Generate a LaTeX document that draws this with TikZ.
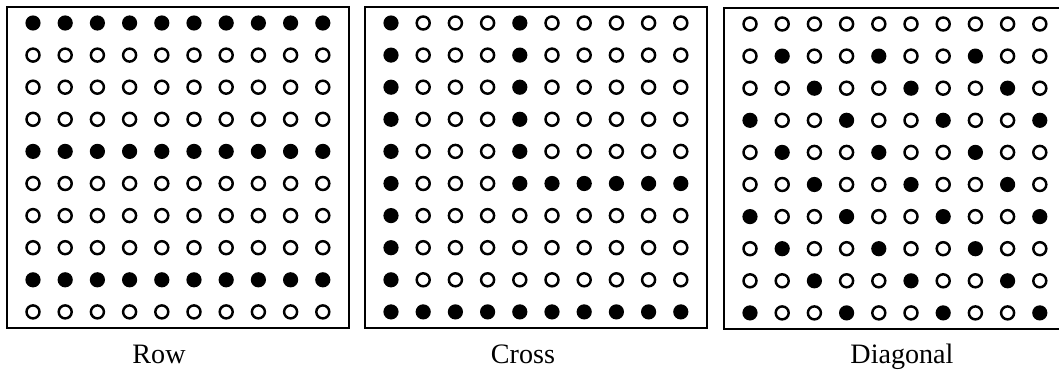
\documentclass[tikz,border=0pt]{standalone}
\usepackage{fontspec}
\setmainfont{Liberation Serif}
\tikzset{
  pionplein/.style={fill=black},
  pionvide/.style={draw=black, fill=white, line width=1.4pt},
  cadre/.style={draw=black, line width=1.2pt},
  legende/.style={anchor=base, font=\fontsize{16}{19}\selectfont}
}
% un pion : \pion{x}{y}{1 = plein, 0 = vide}
\newcommand{\pion}[3]{%
  \ifnum#3=1
    \fill[pionplein] (#1,#2) circle (7.6);
  \else
    \draw[pionvide] (#1,#2) circle (6.5);
  \fi}
\begin{document}
\begin{tikzpicture}[x=0.02cm, y=-0.02cm]
	\useasboundingbox (0,0) rectangle (1059,372);
	% lignes
	\draw[cadre] (7,7) rectangle (349,328);
	\foreach \r in {0,...,9}
		\foreach \c in {0,...,9} {
			\pgfmathtruncatemacro{\plein}{(\r==0)||(\r==4)||(\r==8)}
			\pion{33+32.2*\c}{23+32.1*\r}{\plein}
		}
	\node[legende] (row) at (159,363) {Row};
	% croix
	\begin{scope}[shift={(358,0)}]
		\draw[cadre] (7,7) rectangle (349,328);
		\foreach \r in {0,...,9}
			\foreach \c in {0,...,9} {
				\pgfmathtruncatemacro{\plein}{(\c==0)||(\r==9)||((\c==4)&&(\r<6))||((\r==5)&&(\c>3))}
				\pion{33+32.2*\c}{23+32.1*\r}{\plein}
			}
		\node[legende] (cross) at (165,363) {Cross};
	\end{scope}
	% diagonale
	\begin{scope}[shift={(717,0)}]
		\draw[cadre] (7,8) rectangle (349,329);
		\foreach \r in {0,...,9}
			\foreach \c in {0,...,9} {
				\pgfmathtruncatemacro{\plein}{(\r>0)&&(mod(\c-\r+30,3)==0)}
				\pion{33+32.2*\c}{24+32.1*\r}{\plein}
			}
		\node[legende] (diagonal) at (185,363) {Diagonal};
	\end{scope}
\end{tikzpicture}
\end{document}
